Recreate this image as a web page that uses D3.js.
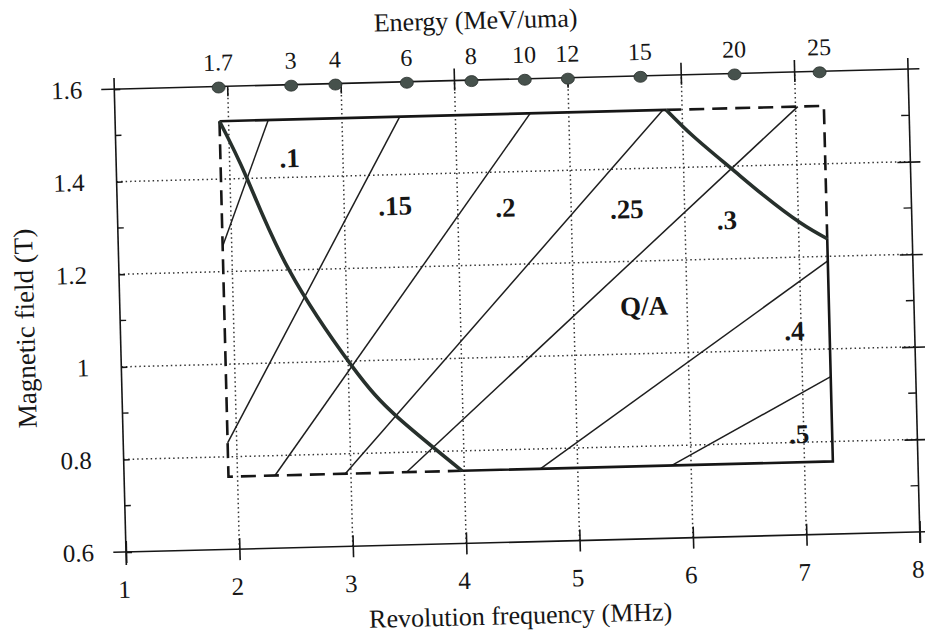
<!DOCTYPE html>
<html>
<head>
<meta charset="utf-8">
<script src="https://cdn.jsdelivr.net/npm/d3@7"></script>
<style>
  body { margin: 0; background: #fff; }
  svg { display: block; font-family: "Liberation Serif", "Times New Roman", serif; }
</style>
</head>
<body>
<div id="chart"></div>
<script>
// axes: revolution frequency (MHz) and magnetic field (T)
var xTicks = [1, 2, 3, 4, 5, 6, 7, 8];
var xGrid = [2, 3, 4, 5, 6, 7];
var yTicks = [0.6, 0.8, 1, 1.2, 1.4, 1.6];
var yGrid = [0.8, 1, 1.2, 1.4];
var yMinorTicks = [0.7, 0.9, 1.1, 1.3, 1.5];
var topTicksUp = [4, 6, 7];

// energy scale along the top, MeV/uma, and the frequency each dot sits on
var energyLabels = ["1.7", "3", "4", "6", "8", "10", "12", "15", "20", "25"];
var energyFreq = [1.92, 2.56, 2.95, 3.58, 4.15, 4.62, 5.0, 5.64, 6.47, 7.22];

// operating box corners
var boxF = [1.92, 7.25];
var boxB = [0.757, 1.525];

// thick limit curves (f, B)
var lowCurve = [[1.92, 1.525], [2.15, 1.40], [2.5, 1.2], [3.03, 0.99], [3.42, 0.877], [3.98, 0.757]];
var highCurve = [[5.86, 1.525], [6.1, 1.465], [6.42, 1.395], [6.7, 1.335], [7.01, 1.275], [7.25, 1.238]];

// Q/A lines, from start to end, and where the label sits
var qaNames = [".1", ".15", ".2", ".25", ".3", ".4", ".5"];
var qaStart = [[1.92, 1.255], [1.92, 0.83], [2.33, 0.757], [2.95, 0.757], [3.49, 0.757], [4.67, 0.757], [5.83, 0.757]];
var qaEnd = [[2.35, 1.525], [3.51, 1.525], [4.66, 1.525], [5.83, 1.525], [7.02, 1.525], [7.25, 1.19], [7.25, 0.94]];
var qaLabelAt = [[2.53, 1.422], [3.45, 1.313], [4.42, 1.303], [5.49, 1.293], [6.37, 1.264], [6.94, 1.021], [6.96, 0.798]];

var width = 794, height = 463;

var svg = d3.select("#chart")
  .append("svg")
  .attr("width", 925)
  .attr("height", 635);

// the scanned page is slightly tilted
var g = svg.append("g")
  .attr("transform", "translate(126,552) rotate(-1.45) translate(0," + (-height) + ")");

var x = d3.scaleLinear().domain([1, 8]).range([0, width]);
var y = d3.scaleLinear().domain([0.6, 1.6]).range([height, 0]);

var ink = "#161616";

// dotted grid
g.selectAll(".vgrid")
  .data(xGrid)
  .enter()
  .append("line")
  .attr("x1", function(d) { return x(d); })
  .attr("x2", function(d) { return x(d); })
  .attr("y1", y(0.6))
  .attr("y2", y(1.6))
  .attr("stroke", "#333")
  .attr("stroke-width", 1.5)
  .attr("stroke-dasharray", "1.5,3");

g.selectAll(".hgrid")
  .data(yGrid)
  .enter()
  .append("line")
  .attr("x1", x(1))
  .attr("x2", x(8))
  .attr("y1", function(d) { return y(d); })
  .attr("y2", function(d) { return y(d); })
  .attr("stroke", "#333")
  .attr("stroke-width", 1.5)
  .attr("stroke-dasharray", "1.5,3");

// frame
var frame = [
  [[0.888, 0.6], [8.05, 0.6]],
  [[0.885, 1.6], [8.1, 1.6]],
  [[1, 0.572], [1, 1.624]],
  [[8, 0.576], [8, 1.624]]
];
g.selectAll(".frame")
  .data(frame)
  .enter()
  .append("line")
  .attr("x1", function(d) { return x(d[0][0]); })
  .attr("y1", function(d) { return y(d[0][1]); })
  .attr("x2", function(d) { return x(d[1][0]); })
  .attr("y2", function(d) { return y(d[1][1]); })
  .attr("stroke", ink)
  .attr("stroke-width", 1.6);

// bottom axis
var xAxis = d3.axisBottom(x).tickValues(xTicks).tickSize(11).tickPadding(17)
  .tickFormat(d3.format("d"));
g.append("g")
  .attr("transform", "translate(0," + height + ")")
  .call(xAxis)
  .call(function(a) {
    a.select(".domain").remove();
    a.selectAll(".tick line").attr("y1", -11).attr("stroke", ink).attr("stroke-width", 1.6);
    a.selectAll(".tick text")
      .attr("font-family", "Liberation Serif")
      .attr("font-size", 25)
      .attr("fill", ink)
      .attr("dx", -3);
  });

// left axis
var yAxis = d3.axisLeft(y).tickValues(yTicks).tickSize(13).tickPadding(19)
  .tickFormat(function(d) { return d === 1 ? "1" : d3.format(".1f")(d); });
g.append("g")
  .call(yAxis)
  .call(function(a) {
    a.select(".domain").remove();
    a.selectAll(".tick line").attr("x2", 6).attr("stroke", ink).attr("stroke-width", 1.6);
    a.selectAll(".tick text")
      .attr("font-family", "Liberation Serif")
      .attr("font-size", 25)
      .attr("fill", ink);
  });

// right axis, no labels
var yAxisRight = d3.axisRight(y).tickValues(yGrid).tickSize(10).tickFormat("");
g.append("g")
  .attr("transform", "translate(" + width + ",0)")
  .call(yAxisRight)
  .call(function(a) {
    a.select(".domain").remove();
    a.selectAll(".tick line").attr("x1", -13).attr("stroke", ink).attr("stroke-width", 1.6);
  });

// minor ticks, inside
g.selectAll(".minorL")
  .data(yMinorTicks)
  .enter()
  .append("line")
  .attr("x1", 0).attr("x2", 6)
  .attr("y1", function(d) { return y(d); })
  .attr("y2", function(d) { return y(d); })
  .attr("stroke", ink).attr("stroke-width", 1.4);

g.selectAll(".minorR")
  .data(yMinorTicks)
  .enter()
  .append("line")
  .attr("x1", width - 8).attr("x2", width)
  .attr("y1", function(d) { return y(d); })
  .attr("y2", function(d) { return y(d); })
  .attr("stroke", ink).attr("stroke-width", 1.4);

// top ticks
g.selectAll(".topTick")
  .data(xGrid)
  .enter()
  .append("line")
  .attr("x1", function(d) { return x(d); })
  .attr("x2", function(d) { return x(d); })
  .attr("y1", function(d) { return topTicksUp.indexOf(d) >= 0 ? y(1.6) - 12 : y(1.6); })
  .attr("y2", y(1.6) + 10)
  .attr("stroke", ink).attr("stroke-width", 1.6);

// energy dots and labels
g.selectAll(".edot")
  .data(energyFreq)
  .enter()
  .append("ellipse")
  .attr("cx", function(d) { return x(d); })
  .attr("cy", y(1.6) + 1)
  .attr("rx", 6.5)
  .attr("ry", 5.5)
  .attr("fill", "#46514c")
  .attr("stroke", "#2b322f")
  .attr("stroke-width", 0.8);

g.selectAll(".elabel")
  .data(energyLabels)
  .enter()
  .append("text")
  .attr("x", function(d, i) { return x(energyFreq[i]); })
  .attr("y", y(1.6) - 16)
  .attr("text-anchor", "middle")
  .attr("font-size", 24)
  .attr("fill", ink)
  .text(function(d) { return d; });

var line = d3.line()
  .x(function(d) { return x(d[0]); })
  .y(function(d) { return y(d[1]); });

// Q/A lines
g.selectAll(".qa")
  .data(qaNames)
  .enter()
  .append("path")
  .attr("d", function(d, i) { return line([qaStart[i], qaEnd[i]]); })
  .attr("fill", "none")
  .attr("stroke", "#1e1e1e")
  .attr("stroke-width", 1.5);

// box, dashed part
g.append("path")
  .attr("d", line([[boxF[0], boxB[1]], [boxF[0], boxB[0]], [lowCurve[lowCurve.length - 1][0], boxB[0]]]))
  .attr("fill", "none")
  .attr("stroke", ink)
  .attr("stroke-width", 2.6)
  .attr("stroke-dasharray", "15,8");

g.append("path")
  .attr("d", line([[highCurve[0][0], boxB[1]], [boxF[1], boxB[1]], [boxF[1], highCurve[highCurve.length - 1][1]]]))
  .attr("fill", "none")
  .attr("stroke", ink)
  .attr("stroke-width", 2.6)
  .attr("stroke-dasharray", "15,8");

// box, solid part
g.append("path")
  .attr("d", line([[boxF[0], boxB[1]], [highCurve[0][0], boxB[1]]]))
  .attr("fill", "none")
  .attr("stroke", ink)
  .attr("stroke-width", 2.6);

g.append("path")
  .attr("d", line([[boxF[1], highCurve[highCurve.length - 1][1]], [boxF[1], boxB[0]], [lowCurve[lowCurve.length - 1][0], boxB[0]]]))
  .attr("fill", "none")
  .attr("stroke", ink)
  .attr("stroke-width", 2.6);

// thick limit curves
var curve = d3.line()
  .x(function(d) { return x(d[0]); })
  .y(function(d) { return y(d[1]); })
  .curve(d3.curveNatural);

[lowCurve, highCurve].forEach(function(c) {
  g.append("path")
    .attr("d", curve(c))
    .attr("fill", "none")
    .attr("stroke", "#27302c")
    .attr("stroke-width", 3.6);
});

// Q/A labels
g.selectAll(".qalabel")
  .data(qaNames)
  .enter()
  .append("text")
  .attr("x", function(d, i) { return x(qaLabelAt[i][0]); })
  .attr("y", function(d, i) { return y(qaLabelAt[i][1]); })
  .attr("text-anchor", "middle")
  .attr("font-size", 27)
  .attr("font-weight", "bold")
  .attr("fill", ink)
  .text(function(d) { return d; });

g.append("text")
  .attr("x", x(5.62))
  .attr("y", y(1.083))
  .attr("text-anchor", "middle")
  .attr("font-size", 27)
  .attr("font-weight", "bold")
  .attr("fill", ink)
  .text("Q/A");

// axis titles
g.append("text")
  .attr("x", 363)
  .attr("y", -51)
  .attr("text-anchor", "middle")
  .attr("font-size", 26)
  .attr("fill", ink)
  .text("Energy (MeV/uma)");

g.append("text")
  .attr("x", 393)
  .attr("y", height + 82)
  .attr("text-anchor", "middle")
  .attr("font-size", 26)
  .attr("fill", ink)
  .text("Revolution frequency (MHz)");

g.append("text")
  .attr("transform", "translate(-86,237) rotate(-90)")
  .attr("text-anchor", "middle")
  .attr("font-size", 27)
  .attr("fill", ink)
  .text("Magnetic field (T)");
</script>
</body>
</html>
